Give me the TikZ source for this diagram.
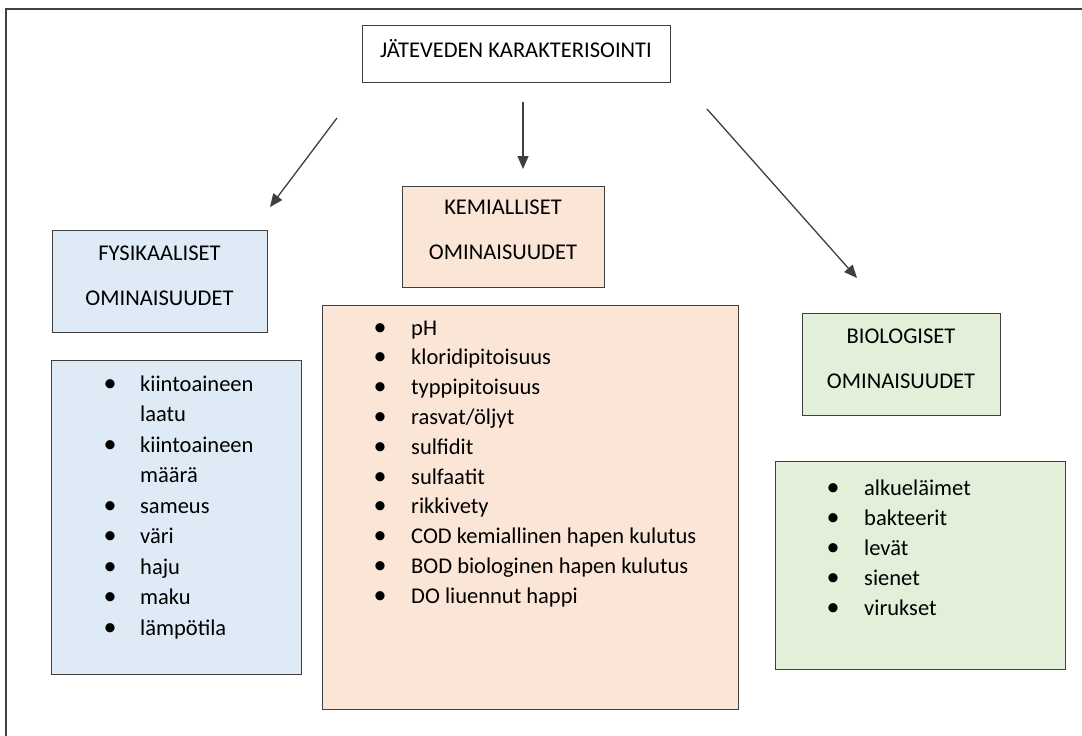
\documentclass[tikz,border=0pt]{standalone}
\usepackage{fontspec}
\setmainfont{Carlito}
\usetikzlibrary{arrows.meta}
\definecolor{fysblue}{HTML}{DEEBF7}
\definecolor{kemorange}{HTML}{FBE5D6}
\definecolor{biogreen}{HTML}{E2F0D9}
\definecolor{edgegray}{HTML}{3F3F3F}
\definecolor{txt}{HTML}{000000}
\begin{document}
\begin{tikzpicture}[x=1pt,y=-1pt,
  box/.style={draw=edgegray, line width=1.3pt, rectangle, inner sep=0pt, anchor=north west},
  htext/.style={align=center, inner sep=0pt, text=txt, font=\fontsize{22.5}{45}\selectfont},
  itext/.style={anchor=base west, inner sep=0pt, text=txt, font=\fontsize{22.5}{27}\selectfont},
  bul/.style={anchor=base, inner sep=0pt, text=txt, font=\fontsize{26}{27}\selectfont},
  arr/.style={line width=1.3pt, draw=edgegray, -{Triangle[length=13pt,width=11pt]}}]
\useasboundingbox (0,0) rectangle (1082,736);
% outer frame
\draw[line width=1.6pt, edgegray] (6,740) -- (6,9) -- (1086,9);
% title
\node[box, minimum width=308pt, minimum height=57pt] (title) at (362,25) {};
\node[anchor=base, inner sep=0pt, text=txt, font=\fontsize{22.5}{27}\selectfont] (titleT) at (516,57) {JÄTEVEDEN KARAKTERISOINTI};
% heads
\node[box, fill=fysblue, minimum width=215pt, minimum height=102pt] (fys) at (52,230) {};
\node[htext] (fysT) at (159.5,275.5) {FYSIKAALISET\\OMINAISUUDET};
\node[box, fill=kemorange, minimum width=202pt, minimum height=101pt] (kem) at (402,186) {};
\node[htext] (kemT) at (503,230) {KEMIALLISET\\OMINAISUUDET};
\node[box, fill=biogreen, minimum width=198pt, minimum height=102pt] (bio) at (802,313) {};
\node[htext] (bioT) at (901,358.5) {BIOLOGISET\\OMINAISUUDET};
% list boxes
\node[box, fill=fysblue, minimum width=250pt, minimum height=314pt] (fysL) at (51,360) {};
\node[box, fill=kemorange, minimum width=416pt, minimum height=404pt] (kemL) at (322,305) {};
\node[box, fill=biogreen, minimum width=290pt, minimum height=208pt] (bioL) at (775,461) {};
% fys items
\foreach \t/\b [count=\i from 0] in {kiintoaineen/1, laatu/0, kiintoaineen/1, määrä/0, sameus/1, väri/1, haju/1, maku/1, lämpötila/1} {
  \pgfmathsetmacro\yy{391+30.5*\i}
  \ifnum\b=1 \node[bul] (fb\i) at (110,\yy) {\textbullet}; \fi
  \node[itext] (fi\i) at (140,\yy) {\t};
}
% kem items
\foreach \t [count=\i from 0] in {pH, kloridipitoisuus, typpipitoisuus, rasvat/öljyt, sulfidit, sulfaatit, rikkivety, COD kemiallinen hapen kulutus, BOD biologinen hapen kulutus, DO liuennut happi} {
  \pgfmathsetmacro\yy{335+29.8*\i}
  \node[bul] (kb\i) at (380,\yy) {\textbullet};
  \node[itext] (ki\i) at (411,\yy) {\t};
}
% bio items
\foreach \t [count=\i from 0] in {alkueläimet, bakteerit, levät, sienet, virukset} {
  \pgfmathsetmacro\yy{495+30*\i}
  \node[bul] (bb\i) at (833,\yy) {\textbullet};
  \node[itext] (bi\i) at (864,\yy) {\t};
}
% arrows
\coordinate (a1s) at (337,118);
\coordinate (a1e) at (270,207);
\coordinate (a2s) at (523,102);
\coordinate (a2e) at (523,169);
\coordinate (a3s) at (707,109);
\coordinate (a3e) at (857,278);
\draw[arr] (a1s) -- (a1e);
\draw[arr] (a2s) -- (a2e);
\draw[arr] (a3s) -- (a3e);
\end{tikzpicture}
\end{document}
